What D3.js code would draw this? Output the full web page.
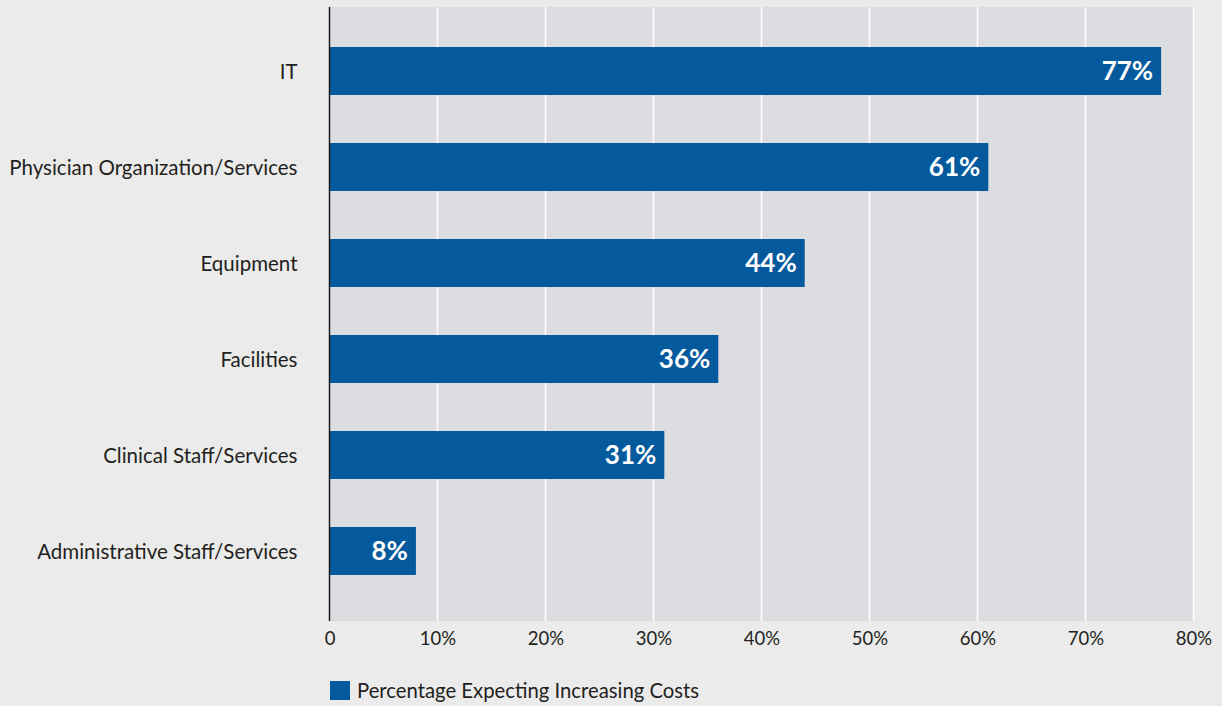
<!DOCTYPE html>
<html>
<head>
<meta charset="utf-8">
<script src="https://cdn.jsdelivr.net/npm/d3@7"></script>
<style>
  html, body { margin: 0; padding: 0; background: #ebebeb; }
  svg { display: block; font-family: Lato, "Open Sans", sans-serif; }
</style>
</head>
<body>
<svg id="chart" width="1222" height="706"></svg>
<script>
// Cost categories, top to bottom
const categories = [
  "IT",
  "Physician Organization/Services",
  "Equipment",
  "Facilities",
  "Clinical Staff/Services",
  "Administrative Staff/Services"
];
// Percentage expecting increasing costs
const values = [77, 61, 44, 36, 31, 8];
const xTicks = [0, 10, 20, 30, 40, 50, 60, 70, 80];
const seriesName = "Percentage Expecting Increasing Costs";

const plot = { left: 329.5, right: 1193.5, top: 7, bottom: 621 };
const barColor = "#045a9c";
const textColor = "#231f20";

const svg = d3.select("#chart");

const x = d3.scaleLinear().domain([0, 80]).range([plot.left, plot.right]);
const y = d3.scaleBand()
  .domain(categories)
  .range([23, 599])
  .paddingInner(0.5)
  .paddingOuter(0.25);

// plot background
svg.append("rect")
  .attr("x", plot.left).attr("y", plot.top)
  .attr("width", plot.right - plot.left).attr("height", plot.bottom - plot.top)
  .attr("fill", "#dcdde0");

// vertical gridlines
svg.append("g").selectAll("line")
  .data(xTicks.filter(d => d > 0))
  .join("line")
  .attr("x1", d => x(d)).attr("x2", d => x(d))
  .attr("y1", plot.top).attr("y2", plot.bottom)
  .attr("stroke", "#ffffff").attr("stroke-width", 1.5);

// bars
svg.append("g").selectAll("rect")
  .data(categories)
  .join("rect")
  .attr("x", x(0))
  .attr("y", d => y(d))
  .attr("width", (d, i) => x(values[i]) - x(0))
  .attr("height", y.bandwidth())
  .attr("fill", barColor);

// value labels inside bars
svg.append("g").selectAll("text")
  .data(categories)
  .join("text")
  .attr("x", (d, i) => x(values[i]) - 8)
  .attr("y", d => y(d) + y.bandwidth() / 2)
  .attr("dy", "0.36em")
  .attr("text-anchor", "end")
  .attr("fill", "#ffffff")
  .attr("font-size", 26)
  .attr("font-weight", 700)
  .text((d, i) => values[i] + "%");

// y axis (category labels + axis line)
const yAxis = svg.append("g")
  .attr("transform", `translate(${plot.left},0)`)
  .call(d3.axisLeft(y).tickSize(0).tickPadding(32));
yAxis.select(".domain").remove();
yAxis.selectAll("text")
  .attr("font-family", "Lato, 'Open Sans', sans-serif")
  .attr("font-size", 20.5)
  .attr("dy", "0.38em")
  .attr("fill", textColor);

svg.append("line")
  .attr("x1", plot.left).attr("x2", plot.left)
  .attr("y1", plot.top).attr("y2", plot.bottom)
  .attr("stroke", "#1a1a1a").attr("stroke-width", 1.5);

// x axis tick labels
const xAxis = svg.append("g")
  .attr("transform", `translate(0,${plot.bottom})`)
  .call(d3.axisBottom(x).tickValues(xTicks).tickSize(0).tickPadding(11)
    .tickFormat(d => d === 0 ? "0" : d + "%"));
xAxis.select(".domain").remove();
xAxis.selectAll("text")
  .attr("font-family", "Lato, 'Open Sans', sans-serif")
  .attr("font-size", 18.5)
  .attr("fill", textColor);

// legend
const legend = svg.append("g").attr("transform", "translate(330,681)");
legend.append("rect")
  .attr("width", 20).attr("height", 19)
  .attr("fill", barColor);
legend.append("text")
  .attr("x", 27).attr("y", 10)
  .attr("dy", "0.36em")
  .attr("font-size", 20.3)
  .attr("fill", textColor)
  .text(seriesName);
</script>
</body>
</html>
